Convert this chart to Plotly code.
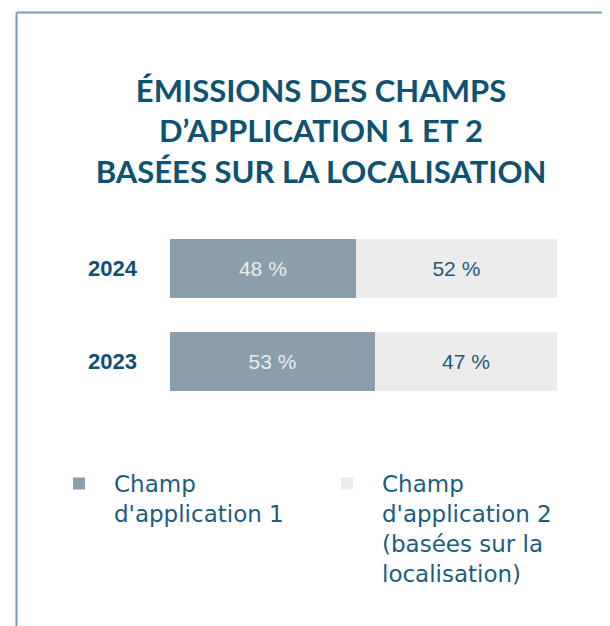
import plotly.graph_objects as go

years = ["2024", "2023"]
scope1 = [48, 53]
scope2 = [52, 47]
series_names = ["Champ<br>d'application 1",
                "Champ<br>d'application 2<br>(basées sur la<br>localisation)"]
colors = ["#8a9eab", "#ececec"]
label_colors = ["#e9edf0", "#1f5a78"]

# the page adds an 8px body margin, so the figure is drawn 8px smaller
W, H = 602, 618
ML, MR, MT, MB = 162, 53, 214, 218
pw, ph = W - ML - MR, H - MT - MB

def px_x(p):
    return (p - ML) / pw

def px_y(p):
    return (H - MB - p) / ph

fig = go.Figure()
for vals, name, col, lcol in zip([scope1, scope2], series_names, colors, label_colors):
    fig.add_trace(go.Bar(
        y=years, x=vals, name=name, orientation="h",
        marker=dict(color=col, line=dict(width=0)),
        texttemplate="%{x} %", textposition="inside", insidetextanchor="middle",
        insidetextfont=dict(family="Liberation Sans, Arial", size=21, color=lcol),
        hoverinfo="skip",
    ))

fig.update_layout(
    width=W, height=H,
    margin=dict(l=ML, r=MR, t=MT, b=MB),
    barmode="stack", bargap=0.376,
    paper_bgcolor="white", plot_bgcolor="white",
    title=dict(
        text="ÉMISSIONS DES CHAMPS<br>D’APPLICATION 1 ET 2<br>BASÉES SUR LA LOCALISATION",
        x=313 / W, xanchor="center", xref="container",
        y=1 - 94 / H, yanchor="top", yref="container",
        font=dict(family="Lato", size=31, color="#0e5272", weight="bold"),
    ),
    xaxis=dict(range=[0, 100], visible=False, fixedrange=True),
    yaxis=dict(categoryorder="array", categoryarray=["2023", "2024"],
               showgrid=False, zeroline=False, showline=False, ticks="",
               ticklabelstandoff=32,
               tickfont=dict(family="Liberation Sans, Arial", size=22,
                             color="#0e5272", weight="bold")),
    legend=dict(orientation="h", x=px_x(36), xanchor="left",
                y=px_y(454), yanchor="top", valign="top",
                itemwidth=60, entrywidth=193, entrywidthmode="pixels",
                font=dict(family="DejaVu Sans", size=23, color="#1d5d7c"),
                traceorder="normal"),
    shapes=[
        dict(type="line", xref="paper", yref="paper",
             x0=px_x(8.5), x1=px_x(W), y0=px_y(4.5), y1=px_y(4.5),
             line=dict(color="#7a9bb0", width=2)),
        dict(type="line", xref="paper", yref="paper",
             x0=px_x(8.5), x1=px_x(8.5), y0=px_y(4.5), y1=px_y(H),
             line=dict(color="#7a9bb0", width=2)),
    ],
    showlegend=True,
)

fig.write_html("out.html")
